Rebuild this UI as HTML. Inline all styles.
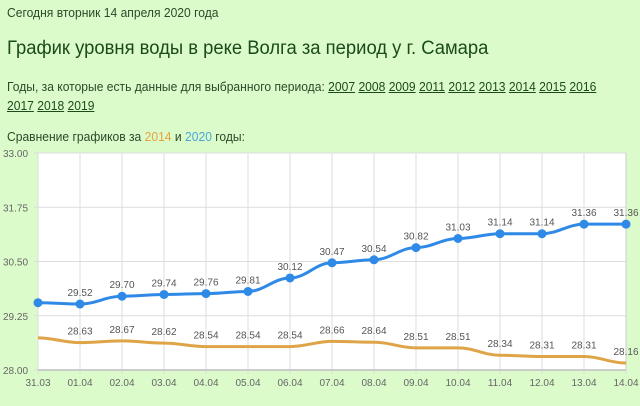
<!DOCTYPE html>
<html><head><meta charset="utf-8"><style>
body{margin:0;width:640px;height:406px;background:#dcfbcb;font-family:"Liberation Sans",sans-serif;color:#1c4a1c;overflow:hidden;position:relative}
.t{position:absolute;left:7px;white-space:nowrap;transform-origin:0 0}
a{color:#1c4a1c;text-decoration:underline}
</style></head><body>
<div class="t" style="top:5px;font-size:13px;color:#2a4a2a;transform:scaleX(0.93)">Сегодня вторник 14 апреля 2020 года</div>
<div class="t" style="top:38px;font-size:19px;color:#1a4a1a;transform:scaleX(0.97)">График уровня воды в реке Волга за период у г. Самара</div>
<div class="t" style="top:77px;font-size:13px;line-height:19px;color:#2a4a2a;transform:scaleX(0.93)">Годы, за которые есть данные для выбранного периода: <a>2007</a> <a>2008</a> <a>2009</a> <a>2011</a> <a>2012</a> <a>2013</a> <a>2014</a> <a>2015</a> <a>2016</a><br><a>2017</a> <a>2018</a> <a>2019</a></div>
<div class="t" style="top:129px;font-size:13px;color:#2a4a2a;transform:scaleX(0.93)">Сравнение графиков за <b style="color:#e8a040;font-weight:normal">2014</b> и <b style="color:#4aa8d8;font-weight:normal">2020</b> годы:</div>
<svg id="c" width="640" height="406" style="position:absolute;left:0;top:0" font-family="Liberation Sans, sans-serif"></svg>
<script>
var s=document.getElementById('c'),h='';
function X(i){return 38+42*i}function Y(v){return 370-(v-28)*43.4}
h+='<rect x="38" y="153" width="588" height="217" fill="#fff"/>';
for(var i=0;i<15;i++){h+='<line x1="'+X(i)+'" y1="153" x2="'+X(i)+'" y2="374" stroke="#ddd"/>';}
var yl=['28.00','29.25','30.50','31.75','33.00'];
for(var k=0;k<5;k++){var y=Y(28+1.25*k);h+='<line x1="34" y1="'+y+'" x2="626" y2="'+y+'" stroke="#ddd"/><text x="3" y="'+(y+4)+'" font-size="10" fill="#666">'+yl[k]+'</text>';}
h+='<line x1="38" y1="370" x2="626" y2="370" stroke="#ccc" stroke-width="2"/><line x1="626" y1="153" x2="626" y2="370" stroke="#ccc"/>';
var d=['31.03','01.04','02.04','03.04','04.04','05.04','06.04','07.04','08.04','09.04','10.04','11.04','12.04','13.04','14.04'];
for(i=0;i<15;i++)h+='<text x="'+X(i)+'" y="386" font-size="10" fill="#666" text-anchor="middle">'+d[i]+'</text>';
var b=[29.55,29.52,29.70,29.74,29.76,29.81,30.12,30.47,30.54,30.82,31.03,31.14,31.14,31.36,31.36];
var o=[28.74,28.63,28.67,28.62,28.54,28.54,28.54,28.66,28.64,28.51,28.51,28.34,28.31,28.31,28.16];
function path(a){var p='M'+X(0)+','+Y(a[0]);for(var i=1;i<a.length;i++){var x0=X(i-1),x1=X(i);p+=' C'+(x0+16)+','+Y(a[i-1])+' '+(x1-16)+','+Y(a[i])+' '+x1+','+Y(a[i]);}return p}
h+='<path d="'+path(o)+'" fill="none" stroke="#e0a448" stroke-width="3"/>';
h+='<path d="'+path(b)+'" fill="none" stroke="#2e8ae6" stroke-width="3"/>';
for(i=0;i<15;i++){h+='<circle cx="'+X(i)+'" cy="'+Y(b[i])+'" r="4.5" fill="#2e8ae6"/>';
if(i>0){h+='<text x="'+X(i)+'" y="'+(Y(b[i])-8)+'" font-size="10" fill="#555" text-anchor="middle">'+b[i].toFixed(2)+'</text>';
h+='<text x="'+X(i)+'" y="'+(Y(o[i])-8)+'" font-size="10" fill="#555" text-anchor="middle">'+o[i].toFixed(2)+'</text>';}}
s.innerHTML=h;
</script>
</body></html>
